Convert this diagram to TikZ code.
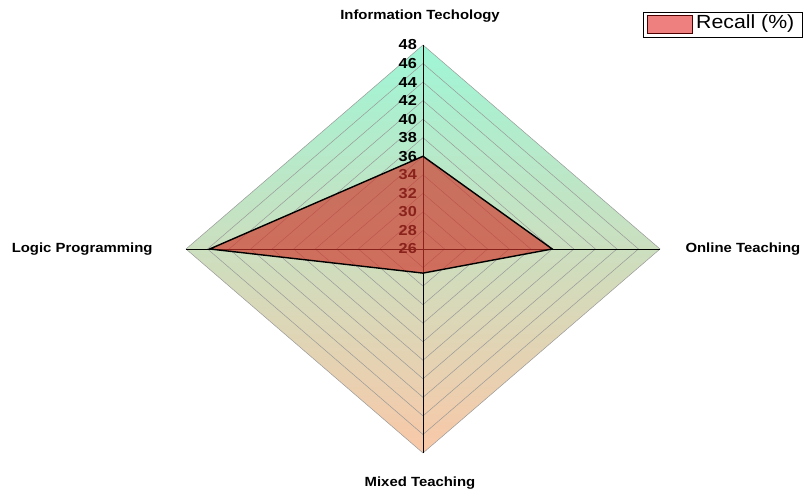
\documentclass[tikz,border=0pt]{standalone}
\usepackage{fontspec}
\newfontfamily\chartfont[FakeStretch=1.12]{Liberation Sans}
\usepackage{xcolor}
\definecolor{colorTop}{RGB}{158,246,214}
\definecolor{colorMiddle}{RGB}{216,241,206}
\definecolor{colorBottom}{RGB}{249,200,168}
\definecolor{colorRecall}{RGB}{208,52,42}
\definecolor{colorSwatch}{RGB}{238,128,128}
\colorlet{colorRing}{black!40}
\usepackage{tikz}
\usetikzlibrary{calc, positioning}
\tikzset{ringLine/.style={colorRing, line width=0.5pt},
  axisLine/.style={black, line width=0.9pt},
  axisLabel/.style={font=\chartfont\bfseries\fontsize{13.3}{15}\selectfont},
  tickLabel/.style={font=\chartfont\bfseries\fontsize{14.5}{16}\selectfont, anchor=east, inner sep=1pt}}

\begin{document}
\begin{tikzpicture}[x=1pt, y=1pt]
\useasboundingbox (0,0) rectangle (806,493);
\coordinate (c) at (423,244);
\coordinate (it) at (423,448);
\coordinate (ot) at (660,244);
\coordinate (mt) at (423,40);
\coordinate (lp) at (186,244);
% background
\shade[top color=colorTop, middle color=colorMiddle, bottom color=colorBottom] (it) -- (ot) -- (mt) -- (lp) -- cycle;
\foreach \k in {1,...,11}
  \draw[ringLine] ($(c)!\k/11!(it)$) -- ($(c)!\k/11!(ot)$) -- ($(c)!\k/11!(mt)$) -- ($(c)!\k/11!(lp)$) -- cycle;
\draw[axisLine] (lp) -- (ot);
\draw[axisLine] (it) -- (mt);
% scale
\foreach \v [count=\k from 0] in {26,28,...,48}
  \node[tickLabel] (v\v) at ($(c)!\k/11!(it) + (-5,0)$) {\v};
% data
\coordinate (dit) at ($(c)!10/22!(it)$);
\coordinate (dot) at ($(c)!12/22!(ot)$);
\coordinate (dmt) at ($(c)!2.6/22!(mt)$);
\coordinate (dlp) at ($(c)!19.8/22!(lp)$);
\filldraw[fill=colorRecall, fill opacity=0.66, draw=black, line width=1.4pt, line join=miter] (dit) -- (dot) -- (dmt) -- (dlp) -- cycle;
% axis names
\node[axisLabel] (itLabel) at (420,477) {Information Techology};
\node[axisLabel, anchor=east] (lpLabel) at (156,244) {Logic Programming};
\node[axisLabel, anchor=west] (otLabel) at (682,244) {Online Teaching};
\node[axisLabel] (mtLabel) at (420,10) {Mixed Teaching};
% legend
\draw[black, line width=0.8pt] (643,456) rectangle (802,481);
\filldraw[fill=colorSwatch, draw=black!70!red, line width=0.6pt] (647,460) rectangle (692,478);
\node[anchor=west, inner sep=0pt, font=\chartfont\fontsize{19}{21}\selectfont] (recall) at (696,469) {Recall (\%)};
\end{tikzpicture}
\end{document}
